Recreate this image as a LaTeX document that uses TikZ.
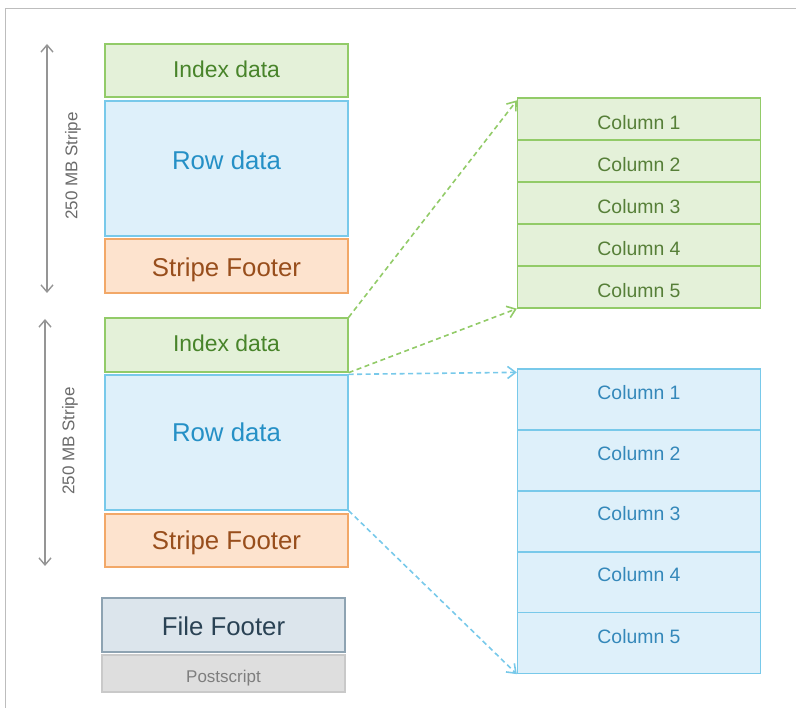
\documentclass[tikz,border=0pt]{standalone}
\usepackage{fontspec}
\setmainfont{Liberation Sans}
\usetikzlibrary{arrows.meta}
\definecolor{gfill}{HTML}{E4F1D9}
\definecolor{gdraw}{HTML}{92CB68}
\definecolor{gtext}{HTML}{48842A}
\definecolor{gctext}{HTML}{567F38}
\definecolor{bfill}{HTML}{DEF0FA}
\definecolor{bdraw}{HTML}{78C9EA}
\definecolor{btext}{HTML}{2590C6}
\definecolor{bctext}{HTML}{3488BA}
\definecolor{ofill}{HTML}{FDE3CE}
\definecolor{odraw}{HTML}{F2A868}
\definecolor{otext}{HTML}{984E1C}
\definecolor{ffill}{HTML}{DCE5EC}
\definecolor{fdraw}{HTML}{8EA3B2}
\definecolor{ftext}{HTML}{2A4254}
\definecolor{pfill}{HTML}{DEDEDE}
\definecolor{pdraw}{HTML}{C9C9C9}
\definecolor{ptext}{HTML}{7E7E7E}
\definecolor{frame}{HTML}{BDBDBD}
\definecolor{arr}{HTML}{959595}
\tikzset{
  box/.style={rectangle, inner sep=0pt, line width=1.3pt, minimum width=243pt},
  gbox/.style={box, fill=gfill, draw=gdraw},
  bbox/.style={box, fill=bfill, draw=bdraw},
  obox/.style={box, fill=ofill, draw=odraw},
  lbl/.style={anchor=base, inner sep=0pt},
  big/.style={lbl, font=\fontsize{25.8}{28}\selectfont},
  idxf/.style={lbl, font=\fontsize{22.9}{25}\selectfont, text=gtext},
  colg/.style={box, fill=gfill, draw=gdraw, minimum height=42pt},
  colb/.style={box, fill=bfill, draw=bdraw, minimum height=61pt},
  ctxt/.style={lbl, font=\fontsize{19.4}{21}\selectfont},
  dgreen/.style={draw=gdraw, line width=1.6pt, dash pattern=on 5pt off 3.5pt, -{Straight Barb[length=8pt,width=12pt]}},
  dblue/.style={draw=bdraw, line width=1.6pt, dash pattern=on 5pt off 3.5pt, -{Straight Barb[length=8pt,width=12pt]}},
  garrow/.style={draw=arr, line width=1.4pt, {Straight Barb[length=7pt,width=12pt]}-{Straight Barb[length=7pt,width=12pt]}},
  striplab/.style={font=\fontsize{17}{18}\selectfont, text=ptext!85!black, rotate=90, inner sep=0pt}
}
\begin{document}
\begin{tikzpicture}[x=1pt,y=-1pt]
\useasboundingbox (0,0) rectangle (796,708);
% frame
\draw[frame, line width=1.2pt] (5.5,708) -- (5.5,8.5) -- (796,8.5);

% stripe 1
\node[gbox, minimum height=53pt] (idx1) at (226.5,70.5) {};
\node[bbox, minimum height=135pt] (row1) at (226.5,168.5) {};
\node[obox, minimum height=54pt] (sf1) at (226.5,266) {};
\node[idxf] (idx1t) at (226.5,78) {Index data};
\node[big, text=btext] (row1t) at (226.5,169.5) {Row data};
\node[big, text=otext] (sf1t) at (226.5,277) {Stripe Footer};

% stripe 2
\node[gbox, minimum height=54pt] (idx2) at (226.5,345) {};
\node[bbox, minimum height=135pt] (row2) at (226.5,442.5) {};
\node[obox, minimum height=53pt] (sf2) at (226.5,540.5) {};
\node[idxf] (idx2t) at (226.5,352) {Index data};
\node[big, text=btext] (row2t) at (226.5,442) {Row data};
\node[big, text=otext] (sf2t) at (226.5,550) {Stripe Footer};

% file footer
\node[box, fill=ffill, draw=fdraw, minimum height=54pt] (ff) at (223.5,625) {};
\node[box, fill=pfill, draw=pdraw, minimum height=37pt] (ps) at (223.5,673.5) {};
\node[big, text=ftext] (fft) at (223.5,635) {File Footer};
\node[lbl, text=ptext, font=\fontsize{17}{19}\selectfont] (pst) at (223.5,682) {Postscript};

% stripe arrows
\coordinate (a1t) at (47,44);
\coordinate (a1b) at (47,293);
\draw[garrow] (a1t) -- (a1b);
\node[striplab] (l1) at (73,166) {250 MB Stripe};
\coordinate (a2t) at (45,319);
\coordinate (a2b) at (45,566);
\draw[garrow] (a2t) -- (a2b);
\node[striplab] (l2) at (70,441) {250 MB Stripe};

% green columns
\foreach \i/\y/\b in {1/119/130,2/161/172,3/203/214,4/245/256,5/287/298}{
  \node[colg] (g\i) at (639,\y) {};
  \node[ctxt, text=gctext] (gt\i) at (639,\b) {Column \i};
}
% blue columns
\foreach \i/\y/\b in {1/399.5/400,2/460.5/461,3/521.5/521,4/582.5/582,5/643/643}{
  \node[colb] (b\i) at (639,\y) {};
  \node[ctxt, text=bctext] (bt\i) at (639,\b) {Column \i};
}

% connectors
\draw[dgreen] (idx2.north east) -- ([yshift=-3pt]g1.north west);
\draw[dgreen] (idx2.south east) -- (g5.south west);
\draw[dblue] (row2.north east) -- ([yshift=-4pt]b1.north west);
\draw[dblue] (row2.south east) -- (b5.south west);
\end{tikzpicture}
\end{document}
